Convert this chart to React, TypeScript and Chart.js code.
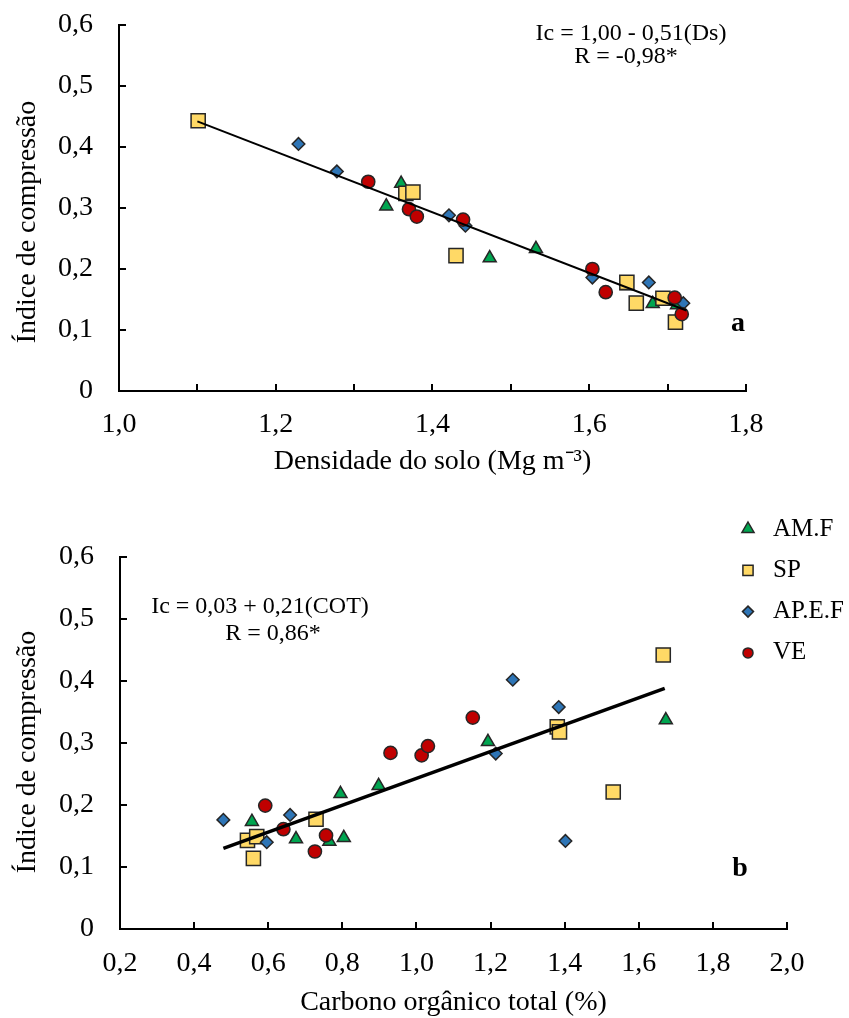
import React, { useEffect, useRef } from 'react';
import { Chart, registerables } from 'chart.js';
Chart.register(...registerables);

const FONT = '"Liberation Serif", "Times New Roman", serif';

// ---------- series names ----------
const seriesNames = ['AM.F', 'SP', 'AP.E.F', 'VE'];

// ---------- chart a: Ds (Mg m-3) vs Ic ----------
const dsAMF = [1.360, 1.341, 1.473, 1.532, 1.648, 1.681, 1.695, 1.712];
const icAMF_a = [0.340, 0.303, 0.218, 0.233, 0.172, 0.143, 0.147, 0.141];
const dsSP = [1.101, 1.366, 1.375, 1.430, 1.648, 1.660, 1.694, 1.710];
const icSP_a = [0.443, 0.324, 0.326, 0.222, 0.178, 0.144, 0.152, 0.113];
const dsAPEF = [1.229, 1.278, 1.421, 1.442, 1.604, 1.676, 1.720];
const icAPEF_a = [0.405, 0.360, 0.288, 0.271, 0.186, 0.178, 0.144];
const dsVE = [1.318, 1.370, 1.380, 1.439, 1.604, 1.621, 1.709, 1.718];
const icVE_a = [0.343, 0.298, 0.286, 0.281, 0.200, 0.162, 0.153, 0.126];
const fitA_x = [1.10, 1.724];
const fitA_y = [0.442, 0.132];

// ---------- chart b: COT (%) vs Ic ----------
const cotAMF = [0.556, 0.675, 0.765, 0.804, 0.795, 0.898, 1.193, 1.673];
const icAMF_b = [0.173, 0.145, 0.141, 0.147, 0.218, 0.231, 0.302, 0.337];
const cotSP = [0.544, 0.569, 0.560, 0.729, 1.380, 1.386, 1.531, 1.666];
const icSP_b = [0.143, 0.149, 0.114, 0.177, 0.326, 0.318, 0.221, 0.442];
const cotAPEF = [0.479, 0.596, 0.659, 1.214, 1.260, 1.384, 1.402];
const icAPEF_b = [0.176, 0.140, 0.184, 0.283, 0.402, 0.358, 0.142];
const cotVE = [0.592, 0.641, 0.756, 0.726, 0.930, 1.014, 1.031, 1.152];
const icVE_b = [0.199, 0.161, 0.151, 0.125, 0.284, 0.280, 0.295, 0.341];
const fitB_x = [0.479, 1.670];
const fitB_y = [0.130, 0.388];

// ---------- tick labels ----------
const yTickLabels = ['0', '0,1', '0,2', '0,3', '0,4', '0,5', '0,6'];
const xTickLabelsA = ['1,0', '', '1,2', '', '1,4', '', '1,6', '', '1,8'];
const xTickLabelsB = ['0,2', '0,4', '0,6', '0,8', '1,0', '1,2', '1,4', '1,6', '1,8', '2,0'];
const yTitle = 'Índice de compressão';

// ---------- styles ----------
const STYLE = [
  { style: 'triangle', color: '#00A550', r: 7.5, lr: 7 },
  { style: 'rect', color: '#FFD966', r: 10, lr: 7.2 },
  { style: 'rectRot', color: '#2E75B6', r: 6.3, lr: 5.5 },
  { style: 'circle', color: '#C00000', r: 6.6, lr: 5 },
];
const EDGE = '#262626';

const pts = (xs: number[], ys: number[]) => xs.map((x, i) => ({ x, y: ys[i] }));

function markerDatasets(groups: [number[], number[]][]) {
  return groups.map((g, i) => ({
    label: seriesNames[i],
    data: pts(g[0], g[1]),
    showLine: false,
    pointStyle: STYLE[i].style,
    pointRadius: STYLE[i].r,
    pointHoverRadius: STYLE[i].r,
    pointBackgroundColor: STYLE[i].color,
    pointBorderColor: EDGE,
    pointBorderWidth: 1.5,
    backgroundColor: STYLE[i].color,
    borderColor: EDGE,
    order: 4 - i,
  }));
}

function drawMarker(ctx: CanvasRenderingContext2D, style: string, x: number, y: number, r: number, fill: string) {
  ctx.beginPath();
  if (style === 'triangle') {
    ctx.moveTo(x, y - r);
    ctx.lineTo(x + 0.866 * r, y + 0.5 * r);
    ctx.lineTo(x - 0.866 * r, y + 0.5 * r);
    ctx.closePath();
  } else if (style === 'rect') {
    const s = r * Math.SQRT1_2;
    ctx.rect(x - s, y - s, 2 * s, 2 * s);
  } else if (style === 'rectRot') {
    ctx.moveTo(x, y - r);
    ctx.lineTo(x + r, y);
    ctx.lineTo(x, y + r);
    ctx.lineTo(x - r, y);
    ctx.closePath();
  } else {
    ctx.arc(x, y, r, 0, Math.PI * 2);
  }
  ctx.fillStyle = fill;
  ctx.fill();
  ctx.lineWidth = 1.5;
  ctx.strokeStyle = EDGE;
  ctx.stroke();
}

type TextItem = { text: string; x: number; y: number; font: string; align?: CanvasTextAlign; rotate?: number };

function makeDecor(texts: TextItem[], legend: { x: number; y0: number; dy: number; tx: number } | null) {
  return {
    id: 'decor',
    afterDraw(chart: any) {
      const ctx: CanvasRenderingContext2D = chart.ctx;
      const { left, bottom } = chart.chartArea;
      const xs = chart.scales.x;
      const ys = chart.scales.y;
      ctx.save();
      ctx.strokeStyle = '#000';
      ctx.lineWidth = 2;
      xs.ticks.forEach((t: any) => {
        const p = Math.round(xs.getPixelForValue(t.value));
        ctx.beginPath();
        ctx.moveTo(p, bottom);
        ctx.lineTo(p, bottom - 7);
        ctx.stroke();
      });
      ys.ticks.forEach((t: any) => {
        const p = Math.round(ys.getPixelForValue(t.value));
        ctx.beginPath();
        ctx.moveTo(left, p);
        ctx.lineTo(left + 7, p);
        ctx.stroke();
      });
      ctx.textBaseline = 'middle';
      texts.forEach((t) => {
        ctx.save();
        ctx.font = t.font;
        ctx.textAlign = t.align || 'center';
        ctx.textBaseline = 'middle';
        ctx.fillStyle = '#000';
        ctx.translate(t.x, t.y);
        if (t.rotate) ctx.rotate(t.rotate);
        ctx.fillText(t.text, 0, 0);
        ctx.restore();
      });
      if (legend) {
        seriesNames.forEach((name, i) => {
          const y = legend.y0 + i * legend.dy;
          drawMarker(ctx, STYLE[i].style, legend.x, y, STYLE[i].lr, STYLE[i].color);
          ctx.font = `25px ${FONT}`;
          ctx.textAlign = 'left';
          ctx.textBaseline = 'middle';
          ctx.fillStyle = '#000';
          ctx.fillText(name, legend.tx, y);
        });
      }
      ctx.restore();
    },
  };
}

function xScale(min: number, max: number, step: number, labels: string[], title: string, titlePad: number, labelPad: number, height: number) {
  return {
    type: 'linear' as const,
    position: 'bottom' as const,
    min,
    max,
    ticks: {
      stepSize: step,
      autoSkip: false,
      maxRotation: 0,
      minRotation: 0,
      padding: labelPad,
      color: '#000',
      font: { family: FONT, size: 28 },
      callback: (_v: any, i: number) => labels[i] ?? '',
    },
    grid: { display: false, drawTicks: false },
    border: { display: true, color: '#000', width: 2 },
    title: {
      display: true,
      text: title,
      color: '#000',
      font: { family: FONT, size: 28, lineHeight: 1 },
      padding: { top: 0, bottom: titlePad },
    },
    afterFit: (s: any) => {
      s.height = height;
    },
  };
}

function yScale(width: number) {
  return {
    type: 'linear' as const,
    position: 'left' as const,
    min: 0,
    max: 0.6,
    ticks: {
      stepSize: 0.1,
      autoSkip: false,
      padding: 26,
      color: '#000',
      font: { family: FONT, size: 28 },
      callback: (_v: any, i: number) => yTickLabels[i] ?? '',
    },
    grid: { display: false, drawTicks: false },
    border: { display: true, color: '#000', width: 2 },
    title: { display: false, text: yTitle },
    afterFit: (s: any) => {
      s.width = width;
      s.paddingTop = 0;
      s.paddingBottom = 0;
    },
  };
}

function fitLine(xs: number[], ys: number[], w: number) {
  return {
    label: 'fit',
    data: pts(xs, ys),
    showLine: true,
    borderColor: '#000',
    borderWidth: w,
    pointRadius: 0,
    pointHoverRadius: 0,
    fill: false,
    order: 0,
  };
}

export default function App() {
  const refA = useRef<HTMLCanvasElement>(null);
  const refB = useRef<HTMLCanvasElement>(null);

  useEffect(() => {
    document.body.style.margin = '0';
    const common = {
      responsive: false,
      animation: false as const,
      devicePixelRatio: 1,
      events: [] as any[],
      plugins: { legend: { display: false }, tooltip: { enabled: false } },
    };

    const chartA = new Chart(refA.current!, {
      type: 'scatter',
      data: {
        datasets: [
          fitLine(fitA_x, fitA_y, 2),
          ...markerDatasets([
            [dsAMF, icAMF_a],
            [dsSP, icSP_a],
            [dsAPEF, icAPEF_a],
            [dsVE, icVE_a],
          ]),
        ] as any,
      },
      options: {
        ...common,
        layout: { padding: { left: 0, right: 849 - 746, top: 25, bottom: 0 } },
        scales: {
          x: xScale(1.0, 1.8, 0.1, xTickLabelsA, 'Densidade do solo (Mg m⁻³)', 14, 17, 490 - 391),
          y: yScale(119),
        },
      } as any,
      plugins: [
        makeDecor(
          [
            { text: yTitle, x: 28, y: 222, font: `28px ${FONT}`, rotate: -Math.PI / 2 },
            { text: 'Ic = 1,00 - 0,51(Ds)', x: 631, y: 34, font: `24px ${FONT}` },
            { text: 'R = -0,98*', x: 626, y: 57, font: `24px ${FONT}` },
            { text: 'a', x: 738, y: 324, font: `bold 28px ${FONT}` },
          ],
          null
        ),
      ],
    });

    const chartB = new Chart(refB.current!, {
      type: 'scatter',
      data: {
        datasets: [
          fitLine(fitB_x, fitB_y, 3.5),
          ...markerDatasets([
            [cotAMF, icAMF_b],
            [cotSP, icSP_b],
            [cotAPEF, icAPEF_b],
            [cotVE, icVE_b],
          ]),
        ] as any,
      },
      options: {
        ...common,
        layout: { padding: { left: 0, right: 849 - 787, top: 67, bottom: 0 } },
        scales: {
          x: xScale(0.2, 2.0, 0.2, xTickLabelsB, 'Carbono orgânico total (%)', 1, 18, 528 - 439),
          y: yScale(120),
        },
      } as any,
      plugins: [
        makeDecor(
          [
            { text: yTitle, x: 28, y: 262, font: `28px ${FONT}`, rotate: -Math.PI / 2 },
            { text: 'Ic = 0,03 + 0,21(COT)', x: 260, y: 117, font: `24px ${FONT}` },
            { text: 'R = 0,86*', x: 273, y: 144, font: `24px ${FONT}` },
            { text: 'b', x: 740, y: 379, font: `bold 28px ${FONT}` },
          ],
          { x: 748, y0: 39, dy: 41.3, tx: 773 }
        ),
      ],
    });

    return () => {
      chartA.destroy();
      chartB.destroy();
    };
  }, []);

  return (
    <div style={{ position: 'relative', width: 849, height: 1018, background: '#fff' }}>
      <canvas ref={refA} width={849} height={490} style={{ position: 'absolute', left: 0, top: 0, width: 849, height: 490, display: 'block' }} />
      <canvas ref={refB} width={849} height={528} style={{ position: 'absolute', left: 0, top: 490, width: 849, height: 528, display: 'block' }} />
    </div>
  );
}
